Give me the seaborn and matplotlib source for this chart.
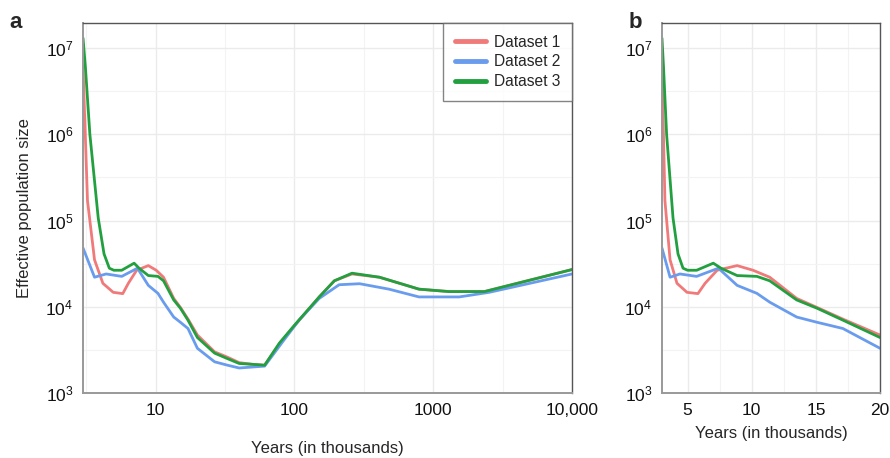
import numpy as np
import pandas as pd
import matplotlib
matplotlib.use("Agg")
import matplotlib.pyplot as plt
import matplotlib.ticker as mticker
import seaborn as sns

# ---- data (years in thousands, effective population size) ----
x_d1 = [3, 3.23, 3.63, 4.17, 4.95, 5.8, 6.36, 7.3, 8.86, 10.1, 11.4, 13.5, 15.1, 17.1, 20,
        26.6, 33, 40, 50, 61, 78, 100, 151, 194, 260, 410, 790, 1300, 2340, 10000]
y_d1 = [6e6, 1.7e5, 3.5e4, 1.87e4, 1.47e4, 1.42e4, 1.87e4, 2.65e4, 3.0e4, 2.65e4, 2.2e4, 1.25e4,
        9.8e3, 7.2e3, 4.7e3, 3.0e3, 2.6e3, 2.25e3, 2.15e3, 2.1e3, 3.7e3, 6.0e3, 1.3e4, 2.0e4,
        2.4e4, 2.2e4, 1.6e4, 1.5e4, 1.5e4, 2.7e4]

x_d2 = [3, 3.63, 4.4, 5.7, 7.4, 8.86, 10.4, 11.4, 13.5, 15.1, 17.1, 20, 26.6, 33, 40, 61, 82,
        108, 151, 210, 295, 480, 790, 1540, 2530, 10000]
y_d2 = [4.8e4, 2.2e4, 2.4e4, 2.25e4, 2.8e4, 1.77e4, 1.43e4, 1.13e4, 7.6e3, 6.6e3, 5.6e3, 3.3e3,
        2.3e3, 2.1e3, 1.95e3, 2.05e3, 3.9e3, 7.0e3, 1.25e4, 1.8e4, 1.85e4, 1.6e4, 1.3e4, 1.3e4,
        1.47e4, 2.4e4]

x_d3 = [3, 3.12, 3.36, 3.86, 4.25, 4.64, 5.0, 5.7, 7.0, 7.6, 8.86, 10.4, 11.4, 13.5, 15.1, 17.1,
        20, 26.6, 33, 40, 50, 61, 78, 100, 151, 194, 260, 410, 790, 1300, 2340, 10000]
y_d3 = [1.3e7, 6e6, 1.0e6, 1.07e5, 4.1e4, 2.8e4, 2.65e4, 2.65e4, 3.2e4, 2.8e4, 2.3e4, 2.25e4,
        2.0e4, 1.2e4, 9.6e3, 7.0e3, 4.4e3, 2.9e3, 2.5e3, 2.2e3, 2.15e3, 2.1e3, 3.8e3, 6.1e3,
        1.3e4, 2.0e4, 2.45e4, 2.2e4, 1.6e4, 1.5e4, 1.5e4, 2.7e4]

series_names = ["Dataset 1", "Dataset 2", "Dataset 3"]
colors = ["#F07A7A", "#6A9CEE", "#22A040"]

x_ticks_a = [10, 100, 1000, 10000]
x_ticklabels_a = ["10", "100", "1000", "10,000"]
x_ticks_b = [5, 10, 15, 20]
y_ticks = [1e3, 1e4, 1e5, 1e6, 1e7]

df = pd.concat([
    pd.DataFrame({"x": x_d1, "y": y_d1, "series": series_names[0]}),
    pd.DataFrame({"x": x_d2, "y": y_d2, "series": series_names[1]}),
    pd.DataFrame({"x": x_d3, "y": y_d3, "series": series_names[2]}),
], ignore_index=True)

sns.set_style("white")
plt.rcParams["font.family"] = ["Liberation Sans", "DejaVu Sans"]
plt.rcParams["mathtext.default"] = "regular"

fig = plt.figure(figsize=(8.9, 4.58), dpi=100)
ax_a = fig.add_axes([0.0933, 0.1419, 0.5494, 0.8079])
ax_b = fig.add_axes([0.7438, 0.1419, 0.2450, 0.8079])

palette = dict(zip(series_names, colors))

for ax, show_leg in [(ax_a, True), (ax_b, False)]:
    sns.lineplot(data=df, x="x", y="y", hue="series", palette=palette, ax=ax,
                 estimator=None, sort=False, linewidth=2.0, legend=show_leg)
    ax.set_yscale("log")
    ax.set_ylim(1e3, 1.95e7)
    ax.yaxis.set_major_locator(mticker.FixedLocator(y_ticks))
    ax.yaxis.set_major_formatter(mticker.LogFormatterMathtext())
    ax.yaxis.set_minor_locator(mticker.FixedLocator([10 ** (k + 0.5) for k in range(3, 7)]))
    ax.grid(True, which="major", color="#ebebeb", linewidth=1.0)
    ax.grid(True, which="minor", color="#f3f3f3", linewidth=0.8)
    ax.set_axisbelow(True)
    ax.tick_params(axis="both", which="major", labelsize=12.5, length=4, width=1,
                   color="#888888", labelcolor="#111111", pad=3)
    ax.tick_params(axis="both", which="minor", length=0)
    for s in ["left", "bottom"]:
        ax.spines[s].set_color("#999999")
        ax.spines[s].set_linewidth(1.4)
    for s in ["top", "right"]:
        ax.spines[s].set_color("#555555")
        ax.spines[s].set_linewidth(1.0)
    ax.set_ylabel("")

# panel a
ax_a.set_xscale("log")
ax_a.set_xlim(3, 10000)
ax_a.xaxis.set_major_locator(mticker.FixedLocator(x_ticks_a))
ax_a.xaxis.set_major_formatter(mticker.FixedFormatter(x_ticklabels_a))
ax_a.xaxis.set_minor_locator(mticker.FixedLocator([10 ** (k + 0.5) for k in range(0, 4)]))
ax_a.set_xlabel("Years (in thousands)", fontsize=12, labelpad=17)
ax_a.set_ylabel("Effective population size", fontsize=12, labelpad=10)
leg = ax_a.legend(loc="upper right", bbox_to_anchor=(1, 1), borderaxespad=0, fontsize=11.2,
                  frameon=True, fancybox=False, handlelength=2.0, handletextpad=0.5,
                  borderpad=0.75, labelspacing=0.3)
leg.get_frame().set_edgecolor("#666666")
leg.get_frame().set_linewidth(1.0)
for h in leg.get_lines():
    h.set_linewidth(3.5)
ax_a.text(-0.15, 1.0, "a", transform=ax_a.transAxes, fontsize=16, fontweight="bold",
          va="center", ha="left")

# panel b
ax_b.set_xlim(3, 20)
ax_b.xaxis.set_major_locator(mticker.FixedLocator(x_ticks_b))
ax_b.xaxis.set_minor_locator(mticker.FixedLocator([7.5, 12.5, 17.5]))
ax_b.set_xlabel("Years (in thousands)", fontsize=12, labelpad=6)
ax_b.text(-0.155, 1.0, "b", transform=ax_b.transAxes, fontsize=16, fontweight="bold",
          va="center", ha="left")

fig.savefig("out.png", dpi=100)
